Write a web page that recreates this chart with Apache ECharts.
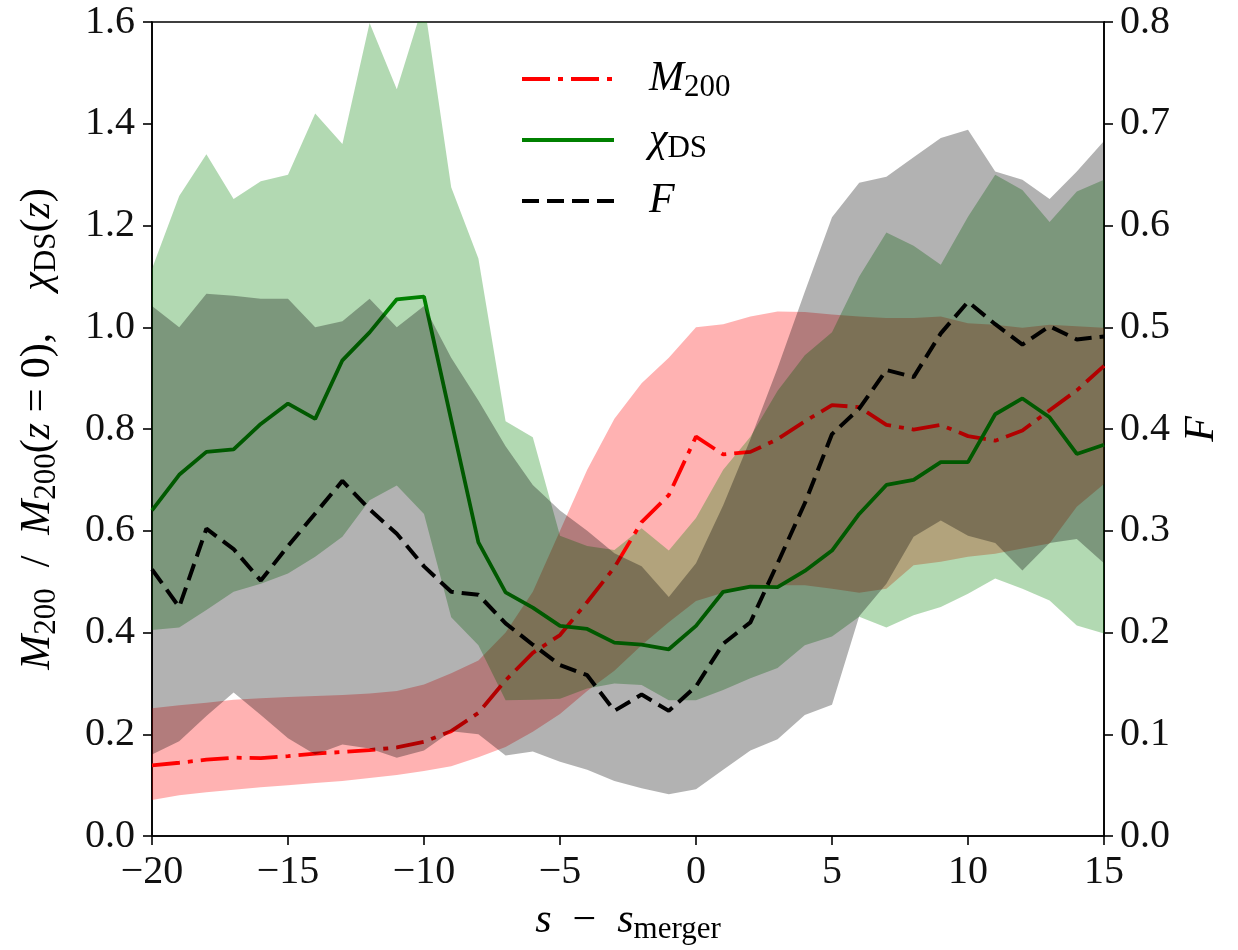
<!DOCTYPE html>
<html>
<head>
<meta charset="utf-8">
<script src="https://cdn.jsdelivr.net/npm/echarts@6/dist/echarts.min.js"></script>
<style>
  html, body { margin: 0; padding: 0; background: #fff; }
  #chart { width: 1238px; height: 950px; }
</style>
</head>
<body>
<div id="chart"></div>
<script>
// Steps relative to the merger snapshot
const steps = [-20,-19,-18,-17,-16,-15,-14,-13,-12,-11,-10,-9,-8,-7,-6,-5,-4,-3,-2,-1,0,1,2,3,4,5,6,7,8,9,10,11,12,13,14,15];

// M200 / M200(z=0): median and spread
const m200   = [0.139,0.144,0.150,0.154,0.153,0.157,0.162,0.165,0.169,0.174,0.185,0.206,0.242,0.306,0.360,0.395,0.460,0.528,0.617,0.670,0.785,0.750,0.755,0.780,0.815,0.847,0.843,0.808,0.799,0.808,0.786,0.777,0.797,0.837,0.876,0.924];
const m200Lo = [0.071,0.080,0.086,0.091,0.096,0.100,0.104,0.108,0.114,0.120,0.128,0.137,0.155,0.175,0.205,0.240,0.285,0.325,0.375,0.420,0.462,0.478,0.488,0.493,0.493,0.486,0.478,0.486,0.532,0.539,0.549,0.555,0.565,0.575,0.647,0.692];
const m200Hi = [0.251,0.257,0.262,0.268,0.271,0.273,0.275,0.277,0.280,0.285,0.298,0.320,0.345,0.400,0.480,0.600,0.720,0.820,0.890,0.940,1.000,1.006,1.021,1.031,1.030,1.025,1.021,1.018,1.018,1.021,1.008,1.005,0.999,1.005,1.002,0.999];

// chi_DS(z): median and spread
const chiDS = [0.640,0.710,0.755,0.760,0.810,0.850,0.820,0.935,0.990,1.055,1.060,0.818,0.577,0.479,0.449,0.413,0.407,0.380,0.376,0.367,0.413,0.480,0.490,0.489,0.521,0.561,0.633,0.690,0.700,0.735,0.735,0.829,0.860,0.823,0.751,0.769];
const chiLo = [0.405,0.410,0.444,0.480,0.496,0.516,0.549,0.588,0.660,0.689,0.633,0.430,0.375,0.267,0.268,0.270,0.290,0.300,0.297,0.267,0.267,0.287,0.310,0.330,0.375,0.392,0.431,0.410,0.434,0.450,0.476,0.506,0.486,0.463,0.414,0.398];
const chiHi = [1.115,1.258,1.340,1.252,1.287,1.300,1.420,1.360,1.598,1.468,1.640,1.275,1.135,0.815,0.784,0.590,0.570,0.562,0.605,0.561,0.625,0.720,0.785,0.875,0.945,0.990,1.100,1.186,1.160,1.123,1.217,1.300,1.270,1.207,1.267,1.290];

// F (right axis): median and spread
const fracF = [0.262,0.225,0.302,0.282,0.251,0.285,0.317,0.349,0.321,0.297,0.265,0.240,0.237,0.209,0.188,0.168,0.158,0.123,0.139,0.123,0.147,0.189,0.210,0.268,0.327,0.395,0.420,0.458,0.451,0.494,0.525,0.503,0.483,0.501,0.488,0.491];
const fLo   = [0.080,0.093,0.118,0.141,0.119,0.096,0.080,0.090,0.086,0.077,0.084,0.103,0.100,0.079,0.083,0.073,0.065,0.054,0.047,0.041,0.046,0.065,0.084,0.095,0.119,0.129,0.216,0.248,0.294,0.310,0.295,0.288,0.261,0.288,0.292,0.268];
const fHi   = [0.521,0.500,0.533,0.531,0.528,0.528,0.500,0.506,0.528,0.500,0.521,0.470,0.428,0.383,0.345,0.320,0.300,0.278,0.265,0.235,0.268,0.325,0.390,0.460,0.535,0.608,0.642,0.648,0.667,0.686,0.694,0.653,0.645,0.626,0.653,0.683];

const FONT = 'Liberation Serif';
const rich = {
  i: { fontFamily: FONT, fontSize: 42, fontStyle: 'italic', color: '#000' },
  r: { fontFamily: FONT, fontSize: 42, color: '#000' },
  s: { fontFamily: FONT, fontSize: 31, color: '#000', padding: [18, 0, 0, 0] },
  g: { width: 30 }
};
const legendText = {
  'M200': '{g|}{i|M}{s|200}',
  'chiDS': '{g|}{i|χ}{s|DS}',
  'F': '{g|}{i|F}'
};

const catLabels = steps.map(String);
const fmtNum = v => String(v).replace('-', '\u2212');

// A shaded spread: transparent lower edge with the width stacked on top
function band(key, lo, hi, color, yAxisIndex, z) {
  return [
    { type: 'line', stack: key, yAxisIndex, data: lo, symbol: 'none', silent: true, z,
      lineStyle: { width: 0, opacity: 0 } },
    { type: 'line', stack: key, yAxisIndex, data: hi.map((h, i) => +(h - lo[i]).toFixed(4)),
      symbol: 'none', silent: true, z,
      lineStyle: { width: 0, opacity: 0 }, areaStyle: { color, opacity: 1 } }
  ];
}

function legendFor(name, top) {
  return {
    data: [name], left: 520, top, padding: 0, itemWidth: 92, itemHeight: 14,
    selectedMode: false,
    itemStyle: { opacity: 0 },
    lineStyle: { width: 4 },
    formatter: n => legendText[n],
    textStyle: { fontFamily: FONT, fontSize: 42, color: '#000', rich }
  };
}

const axisLine = { show: true, lineStyle: { color: '#000', width: 1.6 } };
const axisTick = { show: true, inside: false, length: 9, lineStyle: { color: '#000', width: 1.6 } };
const tickFont = { fontFamily: FONT, fontSize: 40, color: '#111' };

const option = {
  animation: false,
  backgroundColor: '#fff',
  grid: { left: 152, right: 134, top: 22, bottom: 112, show: true, borderColor: '#000', borderWidth: 1.6, backgroundColor: 'transparent' },
  legend: [ legendFor('M200', 58), legendFor('chiDS', 119), legendFor('F', 180) ],
  xAxis: {
    type: 'category', data: catLabels, boundaryGap: false,
    axisLine, splitLine: { show: false },
    axisTick: Object.assign({}, axisTick, { interval: (i, v) => Number(v) % 5 === 0 }),
    axisLabel: Object.assign({}, tickFont, { margin: 16, interval: (i, v) => Number(v) % 5 === 0, formatter: fmtNum }),
    name: '{i|s}  \u2212  {i|s}{s|merger}', nameLocation: 'middle', nameGap: 60,
    nameTextStyle: { fontFamily: FONT, fontSize: 42, color: '#000', rich }
  },
  yAxis: [
    {
      type: 'value', min: 0, max: 1.6, interval: 0.2, position: 'left',
      axisLine, axisTick, splitLine: { show: false },
      axisLabel: Object.assign({}, tickFont, { margin: 17, formatter: v => v.toFixed(1) }),
      name: '{i|M}{s|200}  /  {i|M}{s|200}({i|z} = 0),    {i|χ}{s|DS}({i|z})',
      nameLocation: 'middle', nameRotate: 90, nameGap: 90,
      nameTextStyle: { fontFamily: FONT, fontSize: 42, color: '#000', rich }
    },
    {
      type: 'value', min: 0, max: 0.8, interval: 0.1, position: 'right',
      axisLine, axisTick, splitLine: { show: false },
      axisLabel: Object.assign({}, tickFont, { margin: 16, formatter: v => v.toFixed(1) }),
      name: '{i|F}', nameLocation: 'middle', nameRotate: 90, nameGap: 72,
      nameTextStyle: { fontFamily: FONT, fontSize: 42, color: '#000', rich }
    }
  ],
  series: [
    ...band('m200', m200Lo, m200Hi, 'rgba(255,0,0,0.3)', 0, 1),
    ...band('chi', chiLo, chiHi, 'rgba(0,128,0,0.3)', 0, 1),
    { name: 'M200', type: 'line', yAxisIndex: 0, data: m200, symbol: 'none', z: 2,
      lineStyle: { color: '#ff0000', width: 3.8, type: [28, 8, 5, 8] }, itemStyle: { color: '#ff0000' } },
    { name: 'chiDS', type: 'line', yAxisIndex: 0, data: chiDS, symbol: 'none', z: 2,
      lineStyle: { color: '#008000', width: 3.8, type: 'solid' }, itemStyle: { color: '#008000' } },
    ...band('frac', fLo, fHi, 'rgba(0,0,0,0.3)', 1, 3),
    { name: 'F', type: 'line', yAxisIndex: 1, data: fracF, symbol: 'none', z: 4,
      lineStyle: { color: '#000000', width: 4, type: [17, 8] }, itemStyle: { color: '#000000' } }
  ]
};

const chart = echarts.init(document.getElementById('chart'), null, { renderer: 'canvas' });
chart.setOption(option);
</script>
</body>
</html>
